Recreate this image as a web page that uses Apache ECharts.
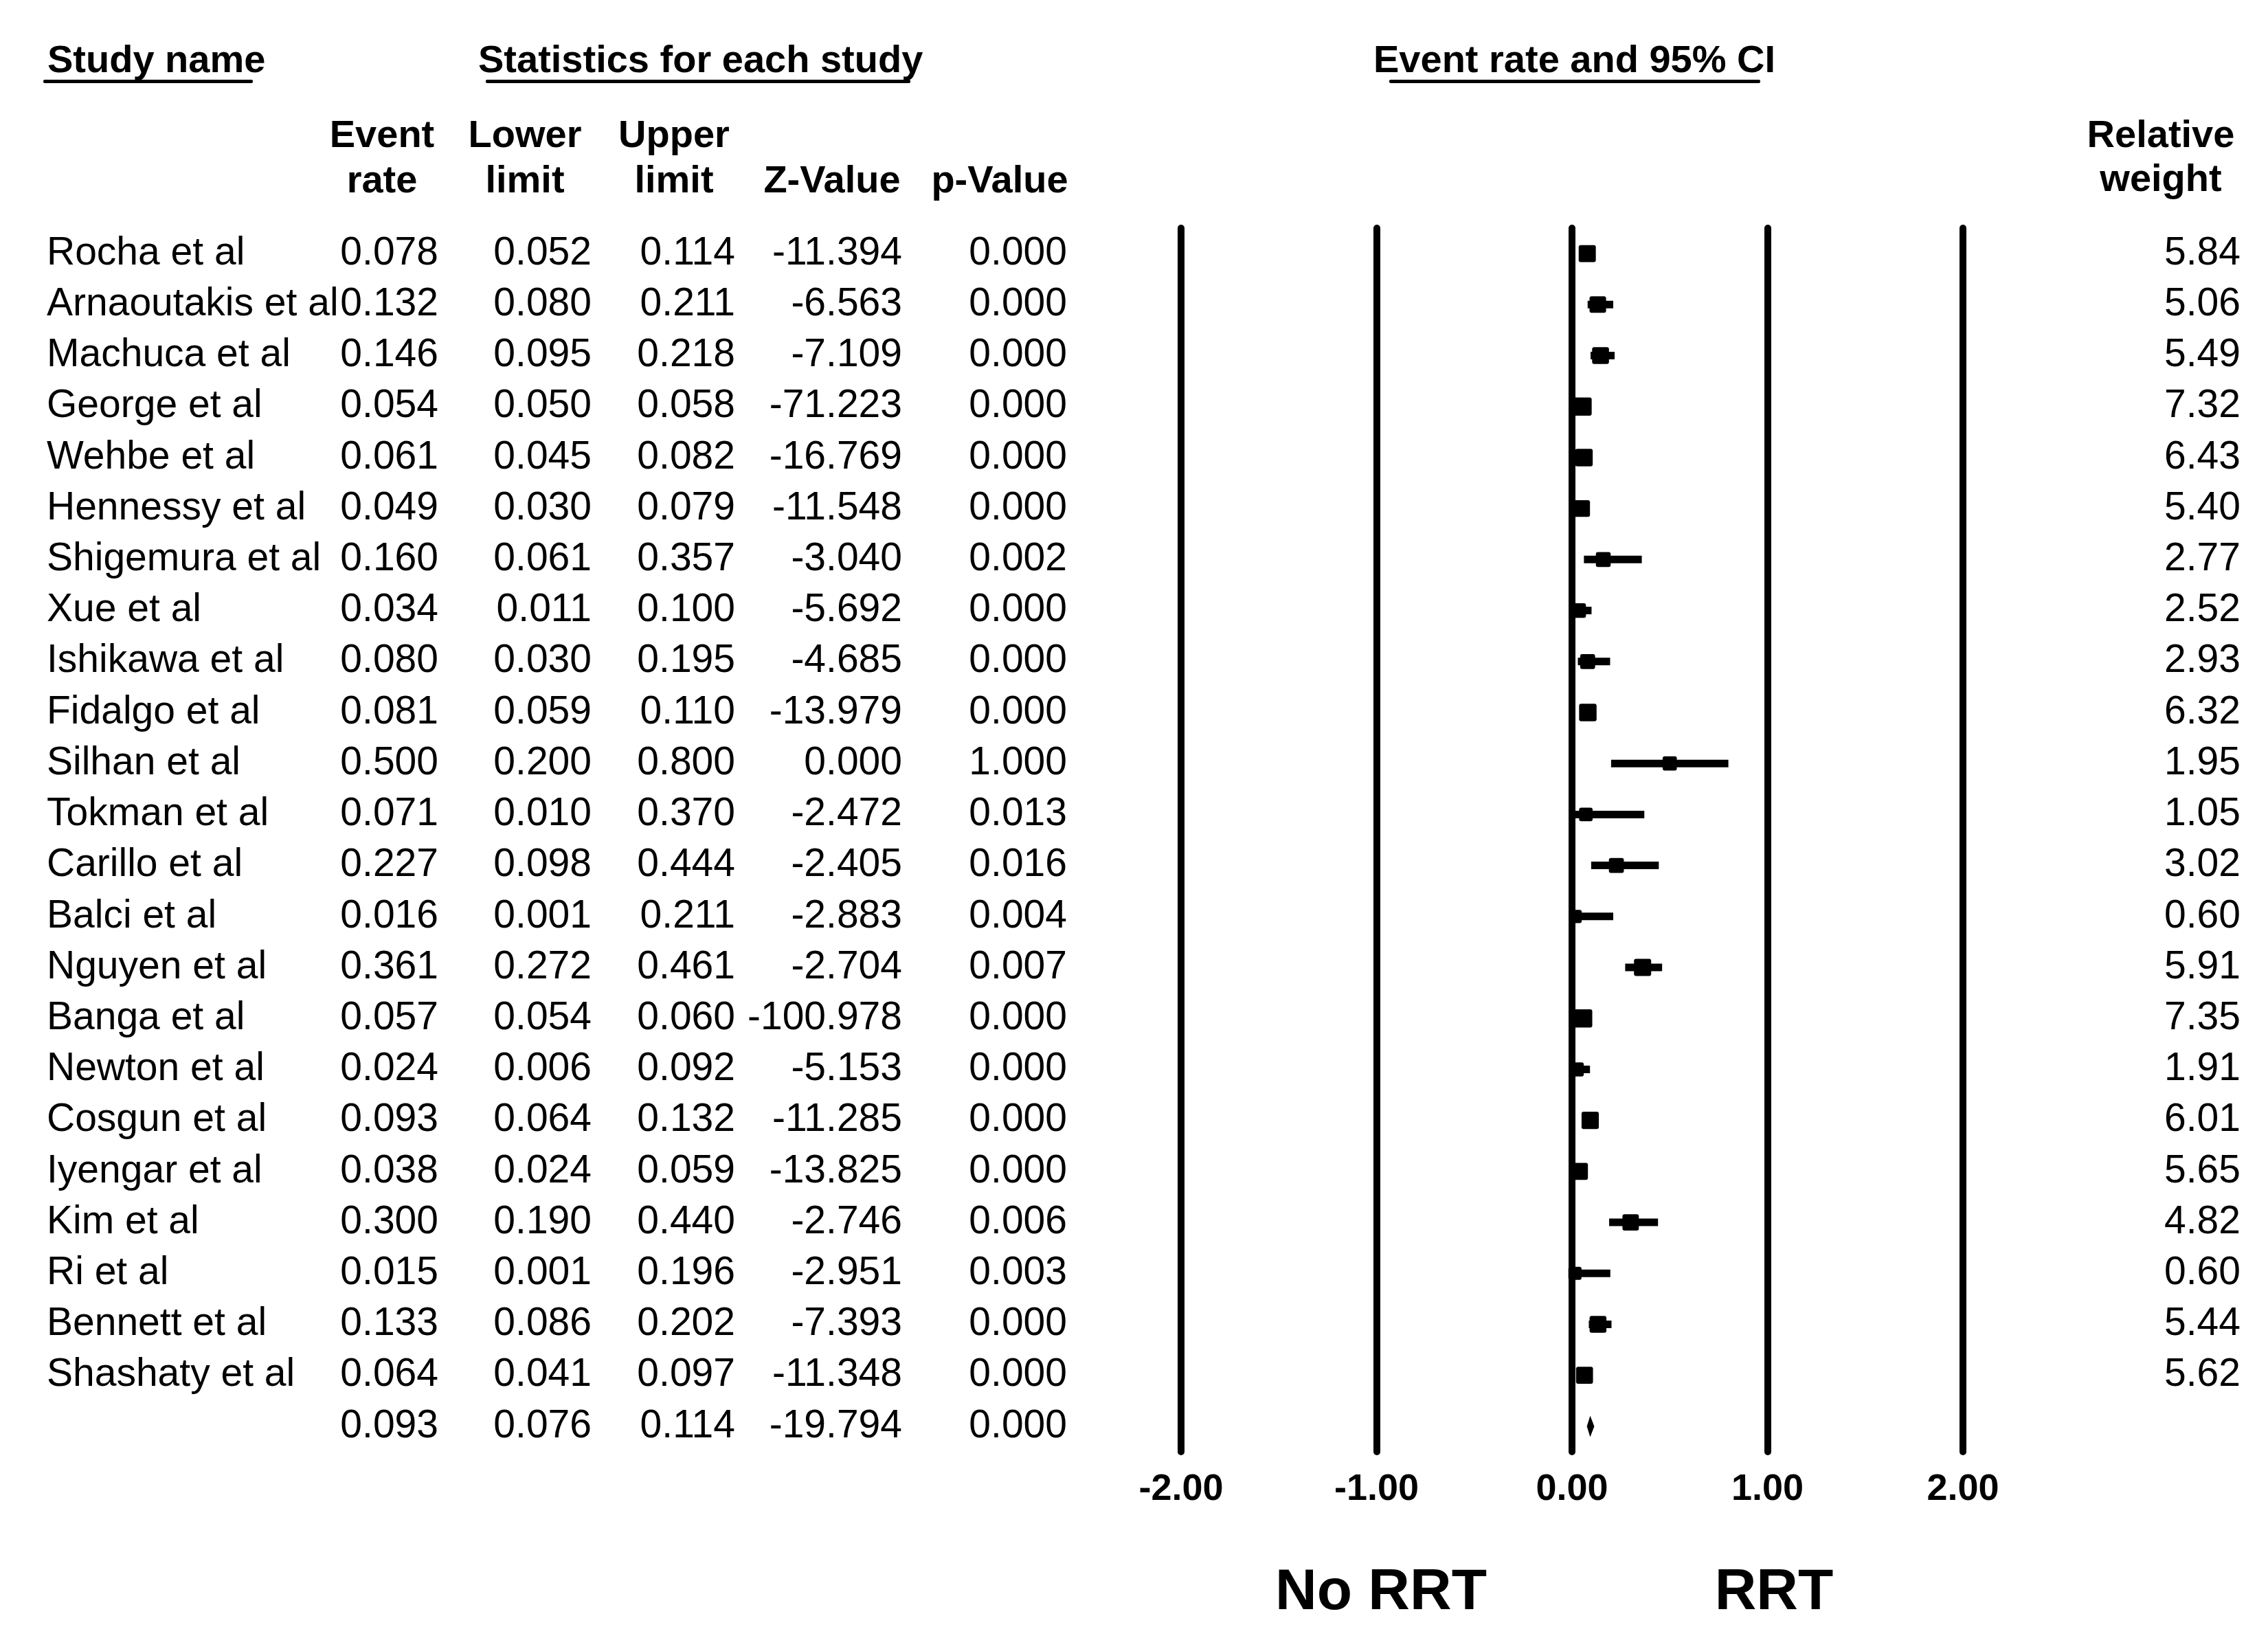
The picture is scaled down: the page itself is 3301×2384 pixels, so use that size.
<!DOCTYPE html>
<html>
<head>
<meta charset="utf-8">
<script src="https://cdn.jsdelivr.net/npm/echarts@6/dist/echarts.min.js"></script>
<style>
html,body{margin:0;padding:0;background:#fff;}
#chart{width:3301px;height:2384px;}
</style>
</head>
<body>
<div id="chart"></div>
<script>
// ---------- data ----------
const studies = ['Rocha et al','Arnaoutakis et al','Machuca et al','George et al','Wehbe et al','Hennessy et al','Shigemura et al','Xue et al','Ishikawa et al','Fidalgo et al','Silhan et al','Tokman et al','Carillo et al','Balci et al','Nguyen et al','Banga et al','Newton et al','Cosgun et al','Iyengar et al','Kim et al','Ri et al','Bennett et al','Shashaty et al'];
const eventRate = [0.078,0.132,0.146,0.054,0.061,0.049,0.160,0.034,0.080,0.081,0.500,0.071,0.227,0.016,0.361,0.057,0.024,0.093,0.038,0.300,0.015,0.133,0.064];
const lowerLimit = [0.052,0.080,0.095,0.050,0.045,0.030,0.061,0.011,0.030,0.059,0.200,0.010,0.098,0.001,0.272,0.054,0.006,0.064,0.024,0.190,0.001,0.086,0.041];
const upperLimit = [0.114,0.211,0.218,0.058,0.082,0.079,0.357,0.100,0.195,0.110,0.800,0.370,0.444,0.211,0.461,0.060,0.092,0.132,0.059,0.440,0.196,0.202,0.097];
const zValue = [-11.394,-6.563,-7.109,-71.223,-16.769,-11.548,-3.040,-5.692,-4.685,-13.979,0.000,-2.472,-2.405,-2.883,-2.704,-100.978,-5.153,-11.285,-13.825,-2.746,-2.951,-7.393,-11.348];
const pValue = [0.000,0.000,0.000,0.000,0.000,0.000,0.002,0.000,0.000,0.000,1.000,0.013,0.016,0.004,0.007,0.000,0.000,0.000,0.000,0.006,0.003,0.000,0.000];
const relWeight = [5.84,5.06,5.49,7.32,6.43,5.40,2.77,2.52,2.93,6.32,1.95,1.05,3.02,0.60,5.91,7.35,1.91,6.01,5.65,4.82,0.60,5.44,5.62];
// pooled (summary) row
const pooledRate = 0.093, pooledLower = 0.076, pooledUpper = 0.114, pooledZ = -19.794, pooledP = 0.000;
// axis ticks and side labels
const xTicks = [-2, -1, 0, 1, 2];
const sideLabels = ['No RRT', 'RRT'];

// ---------- build ----------
const nRows = studies.length + 1;
const rowKeys = studies.concat(['Pooled']);
const colER = eventRate.concat([pooledRate]).map(v => v.toFixed(3));
const colLo = lowerLimit.concat([pooledLower]).map(v => v.toFixed(3));
const colHi = upperLimit.concat([pooledUpper]).map(v => v.toFixed(3));
const colZ = zValue.concat([pooledZ]).map(v => v.toFixed(3));
const colP = pValue.concat([pooledP]).map(v => v.toFixed(3));
const colW = relWeight.map(v => v.toFixed(2)).concat(['']);
const colName = studies.concat(['']);

const FONT = '"Liberation Sans", Arial, sans-serif';
const GRID_L = 1719, GRID_R = 444, GRID_T = 332, GRID_B = 271;

function colAxis(strings, position, margin, align) {
  return {
    type: 'category', data: rowKeys, inverse: true, position: position, offset: 0,
    axisLine: {show: false}, axisTick: {show: false}, splitLine: {show: false},
    axisLabel: {
      interval: 0, margin: margin, align: align, color: '#000', padding: [6, 0, 0, 0],
      fontFamily: FONT, fontSize: 57, fontWeight: 'normal',
      formatter: (v, i) => strings[i]
    }
  };
}

const studyData = studies.map((s, i) => [i, eventRate[i], lowerLimit[i], upperLimit[i], relWeight[i]]);

const headerFont = {fontFamily: FONT, fontSize: 56, fontWeight: 'bold', fill: '#000'};
function htext(text, x, y, align) {
  return {type: 'text', silent: true, style: Object.assign({text: text, x: x, y: y, align: align || 'center', verticalAlign: 'middle'}, headerFont)};
}
function uline(x, w) {
  return {type: 'rect', silent: true, shape: {x: x, y: 116, width: w, height: 5, r: 2}, style: {fill: '#000'}};
}
function bigText(text, x) {
  return {type: 'text', silent: true, style: {text: text, x: x, y: 2319, align: 'center', verticalAlign: 'middle', fontFamily: FONT, fontSize: 84, fontWeight: 'bold', fill: '#000'}};
}

const chart = echarts.init(document.getElementById('chart'), null, {renderer: 'canvas'});
chart.setOption({
  backgroundColor: '#fff',
  animation: false,
  grid: {left: GRID_L, right: GRID_R, top: GRID_T, bottom: GRID_B, containLabel: false, outerBoundsMode: 'none'},
  xAxis: {
    type: 'value', min: xTicks[0], max: xTicks[xTicks.length - 1], interval: 1,
    axisLine: {show: false}, axisTick: {show: false},
    splitLine: {show: true, lineStyle: {color: '#000', width: 10, cap: 'round'}},
    axisLabel: {color: '#000', fontFamily: FONT, fontSize: 54, fontWeight: 'bold', margin: 28,
      formatter: v => v.toFixed(2)}
  },
  yAxis: [
    colAxis(colName, 'left', GRID_L - 68, 'left'),
    colAxis(colER, 'left', GRID_L - 638, 'right'),
    colAxis(colLo, 'left', GRID_L - 861, 'right'),
    colAxis(colHi, 'left', GRID_L - 1070, 'right'),
    colAxis(colZ, 'left', GRID_L - 1313, 'right'),
    colAxis(colP, 'left', GRID_L - 1553, 'right'),
    colAxis(colW, 'right', 3261 - (3301 - GRID_R), 'right')
  ],
  graphic: [
    htext('Study name', 69, 90, 'left'), uline(63, 305),
    htext('Statistics for each study', 696, 90, 'left'), uline(707, 618),
    htext('Event rate and 95% CI', 1999, 90, 'left'), uline(2022, 540),
    htext('Event', 556, 199), htext('rate', 556, 265),
    htext('Lower', 764, 199), htext('limit', 764, 265),
    htext('Upper', 981, 199), htext('limit', 981, 265),
    htext('Z-Value', 1211, 265), htext('p-Value', 1455, 265),
    htext('Relative', 3145, 199), htext('weight', 3145, 263),
    bigText(sideLabels[0], 2010), bigText(sideLabels[1], 2582)
  ],
  series: [
    {
      type: 'custom', name: 'Studies', xAxisIndex: 0, yAxisIndex: 0, clip: false,
      data: studyData,
      encode: {x: [1, 2, 3], y: 0},
      renderItem: function (params, api) {
        const y = api.value(0);
        const pE = api.coord([api.value(1), y]);
        const pL = api.coord([api.value(2), y]);
        const pU = api.coord([api.value(3), y]);
        const s = 18.5 + 1.1 * api.value(4);
        return {
          type: 'group',
          children: [
            {type: 'line', shape: {x1: pL[0], y1: pL[1], x2: pU[0], y2: pU[1]}, style: {stroke: '#000', lineWidth: 11, lineCap: 'butt'}},
            {type: 'rect', shape: {x: pE[0] - s / 2, y: pE[1] - s / 2, width: s, height: s, r: 3}, style: {fill: '#000'}}
          ]
        };
      }
    },
    {
      type: 'custom', name: 'Pooled', xAxisIndex: 0, yAxisIndex: 0, clip: false,
      data: [[nRows - 1, pooledRate, pooledLower, pooledUpper]],
      encode: {x: [1, 2, 3], y: 0},
      renderItem: function (params, api) {
        const y = api.value(0);
        const pE = api.coord([api.value(1), y]);
        const pL = api.coord([api.value(2), y]);
        const pU = api.coord([api.value(3), y]);
        const h = 15.5;
        return {
          type: 'polygon',
          shape: {points: [[pL[0], pE[1]], [pE[0], pE[1] - h], [pU[0], pE[1]], [pE[0], pE[1] + h]]},
          style: {fill: '#000'}
        };
      }
    }
  ]
});
</script>
</body>
</html>
